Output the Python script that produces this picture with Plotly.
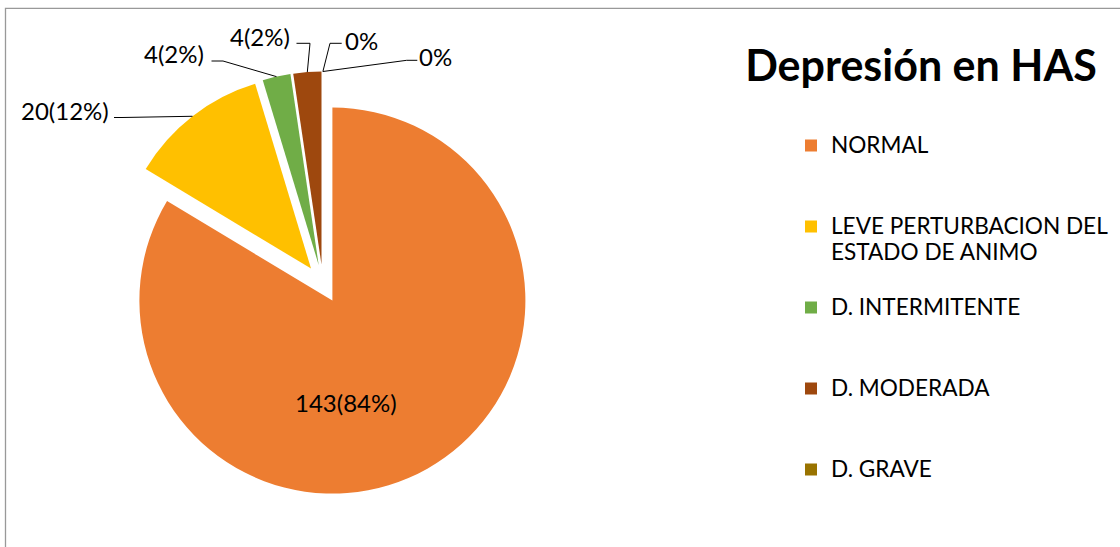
import math
import textwrap

import plotly.graph_objects as go

# Depresión en pacientes con HAS (número de casos por categoría)
categorias = [
    "NORMAL",
    "LEVE PERTURBACION DEL ESTADO DE ANIMO",
    "D. INTERMITENTE",
    "D. MODERADA",
    "D. GRAVE",
]
valores = [143, 20, 4, 4, 0]
# sexta fila de la tabla: sin nombre y sin casos, sólo lleva su etiqueta de datos
valor_fila_sin_nombre = 0
colores = ["#ED7D31", "#FFC000", "#70AD47", "#9E480E", "#997300"]
titulo = "Depresión en HAS"

# ---- lienzo y disposición ----
W, H = 1120, 547
PULL = 0.1
DOMAIN_X = [0.09875, 0.47786]
DOMAIN_Y = [0.09305, 0.86928]
FONT = "Lato"


def px(x, y):
    """Pixel position -> paper coordinates (no margins)."""
    return x / W, 1 - y / H


def geometria_pastel():
    """Centre and radius of the pie, computed the way plotly sizes it."""
    box_w = W * (DOMAIN_X[1] - DOMAIN_X[0])
    box_h = H * (DOMAIN_Y[1] - DOMAIN_Y[0])
    r = min(box_w, box_h) / (2 + 2 * PULL)
    cx = W * (DOMAIN_X[0] + DOMAIN_X[1]) / 2
    cy = H * (1 - DOMAIN_Y[0]) - box_h / 2
    return cx, cy, r


def etiqueta_leyenda(nombre):
    # blank first line keeps the swatch next to the first line of text
    lineas = textwrap.wrap(nombre, 22)
    lineas = [""] + lineas + [""] * (2 - len(lineas))
    return "<br>".join(
        f'<span style="font-size:22.6px">{l}</span>' if l else "" for l in lineas
    )


fig = go.Figure(
    go.Pie(
        labels=[etiqueta_leyenda(c) for c in categorias],
        values=valores,
        sort=False,
        direction="clockwise",
        rotation=0,
        pull=PULL,
        textinfo="none",
        marker=dict(colors=colores, line=dict(width=0)),
        customdata=categorias,
        hovertemplate="%{customdata}: %{value} (%{percent})<extra></extra>",
        domain=dict(x=DOMAIN_X, y=DOMAIN_Y),
    )
)

# ---- etiquetas de datos con líneas guía ----
todos = valores + [valor_fila_sin_nombre]
total = sum(todos)
textos = [f"{v}({round(100 * v / total)}%)" if v else f"{round(100 * v / total)}%" for v in todos]

# centro de cada etiqueta (px) y tramo horizontal de su línea guía (px)
pos_etiquetas = [(346, 402), (65, 110), (174, 54), (260, 36.5), (361.5, 40.5), (435.5, 56.5)]
codos = [
    None,
    [(114, 117.5), (122, 117.5)],
    [(211.5, 61), (223, 61)],
    [(296.5, 43.3), (310, 43.3)],
    [(341.7, 43.3), (330, 43.3)],
    [(417.3, 60.3), (406.7, 60.3)],
]

cx, cy, r = geometria_pastel()
acum = 0
anotaciones = []
formas = []
for v, txt, (lx, ly), codo in zip(todos, textos, pos_etiquetas, codos):
    ang = math.radians(360 * (acum + v / 2) / total)
    acum += v
    ax, ay = px(lx, ly)
    anotaciones.append(
        dict(x=ax, y=ay, xref="paper", yref="paper", text=txt, showarrow=False,
             xanchor="center", yanchor="middle",
             font=dict(family=FONT, size=24, color="#000000"))
    )
    if codo:
        # punto medio del arco exterior del sector desplazado
        rr = r * (1 + PULL)
        tx, ty = cx + rr * math.sin(ang), cy - rr * math.cos(ang)
        pts = [px(*p) for p in codo] + [px(tx, ty)]
        path = "M" + " L".join(f"{x:.5f},{y:.5f}" for x, y in pts)
        formas.append(dict(type="path", xref="paper", yref="paper", path=path,
                           line=dict(color="#000000", width=1)))

# marco del área del gráfico
x0, y0 = px(5.5, 8.3)
formas.append(dict(type="rect", xref="paper", yref="paper", x0=x0, y0=-0.1, x1=1.1, y1=y0,
                   line=dict(color="#999999", width=1.3), fillcolor="rgba(0,0,0,0)"))

tx_, ty_ = px(921, 66)
lx_, ly_ = px(791, 100)
fig.update_layout(
    width=W,
    height=H,
    margin=dict(l=0, r=0, t=0, b=0, autoexpand=False),
    paper_bgcolor="white",
    plot_bgcolor="white",
    font=dict(family=FONT, color="#000000"),
    title=dict(text=f"<b>{titulo}</b>", x=tx_, xanchor="center", y=ty_, yanchor="middle",
               font=dict(family=FONT, size=43, color="#000000")),
    legend=dict(x=lx_, y=ly_, xanchor="left", yanchor="top", traceorder="normal",
                font=dict(family=FONT, size=20, color="#000000"),
                bgcolor="rgba(0,0,0,0)"),
    annotations=anotaciones,
    shapes=formas,
)

fig.write_html("out.html")
